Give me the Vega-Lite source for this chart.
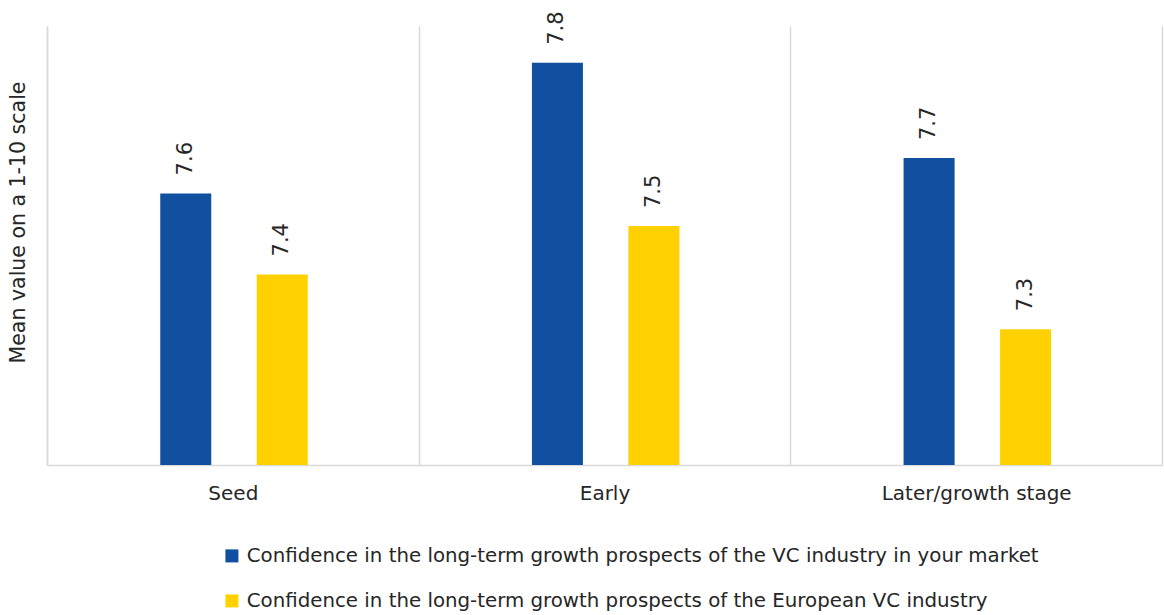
{
  "$schema": "https://vega.github.io/schema/vega-lite/v6.json",
  "width": 1115,
  "height": 439,
  "autosize": {"type": "none"},
  "padding": {"left": 47, "top": 26, "right": 2, "bottom": 150},
  "background": "white",
  "config": {"view": {"stroke": null}, "font": "DejaVu Sans"},
  "data": {
    "values": [
      {"stage": "Seed", "series": "Confidence in the long-term growth prospects of the VC industry in your market", "value": 7.596},
      {"stage": "Seed", "series": "Confidence in the long-term growth prospects of the European VC industry", "value": 7.442},
      {"stage": "Early", "series": "Confidence in the long-term growth prospects of the VC industry in your market", "value": 7.844},
      {"stage": "Early", "series": "Confidence in the long-term growth prospects of the European VC industry", "value": 7.534},
      {"stage": "Later/growth stage", "series": "Confidence in the long-term growth prospects of the VC industry in your market", "value": 7.663},
      {"stage": "Later/growth stage", "series": "Confidence in the long-term growth prospects of the European VC industry", "value": 7.338}
    ]
  },
  "encoding": {
    "x": {
      "field": "stage",
      "type": "nominal",
      "sort": ["Seed", "Early", "Later/growth stage"],
      "scale": {"paddingInner": 0, "paddingOuter": 0},
      "axis": {
        "title": null,
        "labelAngle": 0,
        "labelFontSize": 20,
        "labelColor": "#262626",
        "labelPadding": 18,
        "labelLimit": 400,
        "ticks": false,
        "domainColor": "#d9d9d9",
        "domainWidth": 1.5,
        "grid": true,
        "gridColor": "#d9d9d9",
        "gridWidth": 1.5,
        "tickBand": "extent"
      }
    },
    "xOffset": {
      "field": "series",
      "type": "nominal",
      "sort": [
        "Confidence in the long-term growth prospects of the VC industry in your market",
        "Confidence in the long-term growth prospects of the European VC industry"
      ],
      "scale": {"range": [113.25, 260.75], "paddingInner": 0.4715, "paddingOuter": 0}
    },
    "y": {
      "field": "value",
      "type": "quantitative",
      "scale": {"domain": [7.08, 7.914], "zero": false, "nice": false, "clamp": true},
      "axis": {
        "title": "Mean value on a 1-10 scale",
        "titleFontSize": 20.5,
        "titleFontWeight": "normal",
        "titleColor": "#262626",
        "titlePadding": 19,
        "titleY": 196,
        "labels": false,
        "ticks": false,
        "grid": false,
        "domainColor": "#d9d9d9",
        "domainWidth": 1.5
      }
    }
  },
  "layer": [
    {
      "mark": {"type": "bar"},
      "encoding": {
        "color": {
          "field": "series",
          "type": "nominal",
          "sort": [
            "Confidence in the long-term growth prospects of the VC industry in your market",
            "Confidence in the long-term growth prospects of the European VC industry"
          ],
          "scale": {"range": ["#1150a0", "#ffd100"]},
          "legend": {
            "title": null,
            "orient": "none",
            "legendX": 175,
            "legendY": 520,
            "direction": "vertical",
            "symbolType": "square",
            "symbolSize": 169,
            "symbolStrokeWidth": 0,
            "labelFontSize": 19.8,
            "labelColor": "#262626",
            "labelOffset": 5,
            "labelLimit": 1000,
            "rowPadding": 24
          }
        }
      }
    },
    {
      "mark": {"type": "text", "angle": 270, "align": "left", "baseline": "middle", "dx": 18, "fontSize": 21, "color": "#262626"},
      "encoding": {"text": {"field": "value", "type": "quantitative", "format": ".1f"}}
    }
  ]
}
